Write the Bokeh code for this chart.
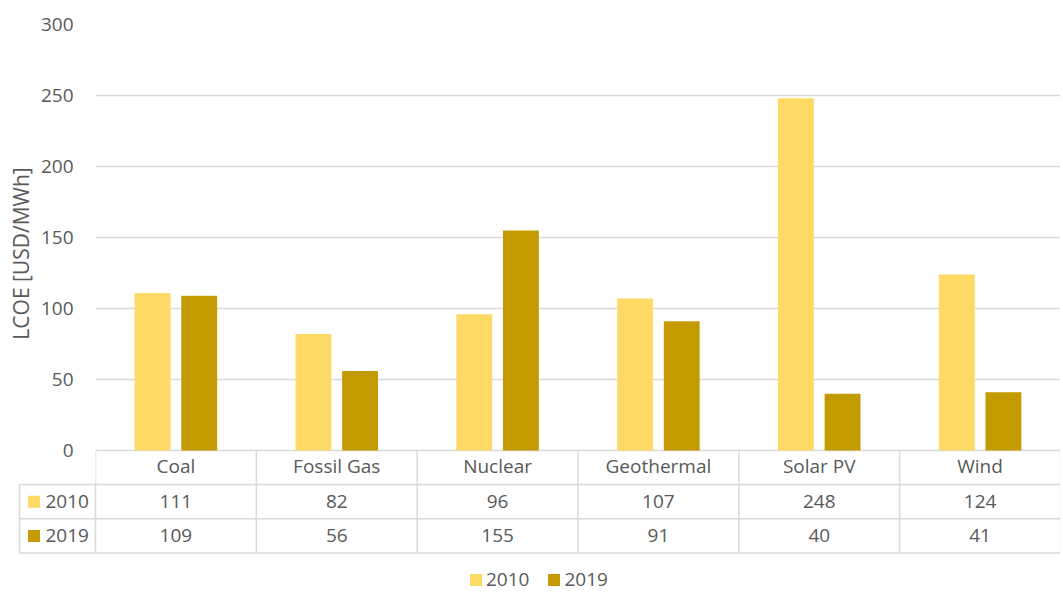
from bokeh.plotting import figure
from bokeh.layouts import column
from bokeh.models import Range1d, FixedTicker, Legend, LegendItem, ColumnDataSource
from bokeh.core.properties import value
from bokeh.embed import file_html
from bokeh.resources import INLINE

# ---- data ----
categories = ["Coal", "Fossil Gas", "Nuclear", "Geothermal", "Solar PV", "Wind"]
v2010 = [111, 82, 96, 107, 248, 124]
v2019 = [109, 56, 155, 91, 40, 41]
series_names = ["2010", "2019"]
y_ticks = [0, 50, 100, 150, 200, 250, 300]

C2010 = "#FFD966"
C2019 = "#C39A00"
TXT = "#595959"
GRID = "#D9D9D9"
FONT = "Open Sans"
FS = "19px"

W = 1060
LEFT = 95
n = len(categories)
ppu = (W - LEFT) / n          # pixels per category
centers = [i + 0.5 for i in range(n)]

# ---- top figure: bars + header row ----
A_TOP = 24
A_H = 482
frame_h = A_H - A_TOP
A = figure(width=W, height=A_H, output_backend="svg", toolbar_location=None,
           x_range=Range1d(0, n), y_range=Range1d(300 - frame_h / 1.42, 300),
           min_border_left=LEFT, min_border_right=0, min_border_top=A_TOP, min_border_bottom=0,
           x_axis_location=None)
A.frame_align = False
A.outline_line_color = None
A.background_fill_color = "white"
A.border_fill_color = "white"
A.xgrid.visible = False
A.ygrid.ticker = FixedTicker(ticks=y_ticks)
A.ygrid.grid_line_color = GRID
A.ygrid.grid_line_width = 1.5

ax = A.yaxis[0]
ax.ticker = FixedTicker(ticks=y_ticks)
ax.axis_line_color = None
ax.major_tick_line_color = None
ax.minor_tick_line_color = None
ax.major_tick_out = 0
ax.major_tick_in = 0
ax.minor_tick_out = 0
ax.minor_tick_in = 0
ax.major_label_standoff = 22
ax.major_label_text_font = FONT
ax.major_label_text_font_size = FS
ax.major_label_text_color = TXT
ax.axis_label = "LCOE [USD/MWh]"
ax.axis_label_text_font = FONT
ax.axis_label_text_font_size = "21px"
ax.axis_label_text_font_style = "normal"
ax.axis_label_text_color = TXT
ax.axis_label_standoff = 3

src = ColumnDataSource(dict(
    x1=[c - 0.145 for c in centers], x2=[c + 0.145 for c in centers],
    v2010=v2010, v2019=v2019, cat=categories, xc=centers,
    s2010=[str(v) for v in v2010], s2019=[str(v) for v in v2019],
))
A.vbar(x="x1", top="v2010", width=0.223, bottom=0, source=src, fill_color=C2010, line_color=None)
A.vbar(x="x2", top="v2019", width=0.223, bottom=0, source=src, fill_color=C2019, line_color=None)

hdr_bottom = 300 - frame_h / 1.42
A.segment(x0=list(range(n + 1)), y0=[0] * (n + 1), x1=list(range(n + 1)), y1=[hdr_bottom] * (n + 1),
          line_color=GRID, line_width=1.5)
A.text(x="xc", y=-10.6, text="cat", source=src, text_align="center", text_baseline="middle",
       text_font=value(FONT), text_font_size=FS, text_color=TXT)

# ---- bottom figure: data table rows + legend ----
B_H = 111
row_px = 34.3
B = figure(width=W, height=B_H, output_backend="svg", toolbar_location=None,
           x_range=Range1d(-LEFT / ppu, n),
           y_range=Range1d(-(A_H + B_H - 484) / row_px, (484 - A_H) / row_px),
           min_border_left=0, min_border_right=0, min_border_top=0, min_border_bottom=0,
           x_axis_location=None, y_axis_location=None)
B.frame_align = False
B.outline_line_color = None
B.xgrid.visible = False
B.ygrid.visible = False
B.background_fill_color = "white"
B.border_fill_color = "white"

xl = -(LEFT - 19) / ppu
ytop = (484 - A_H) / row_px
# horizontal lines
B.segment(x0=[xl] * 3, y0=[0, -1, -2], x1=[n] * 3, y1=[0, -1, -2], line_color=GRID, line_width=1.5)
# vertical lines
B.segment(x0=[xl], y0=[0], x1=[xl], y1=[-2], line_color=GRID, line_width=1.5)
B.segment(x0=list(range(n + 1)), y0=[ytop] * (n + 1), x1=list(range(n + 1)), y1=[-2] * (n + 1),
          line_color=GRID, line_width=1.5)
# values
B.text(x="xc", y=-0.5, text="s2010", source=src, text_align="center", text_baseline="middle",
       text_font=value(FONT), text_font_size=FS, text_color=TXT)
B.text(x="xc", y=-1.5, text="s2019", source=src, text_align="center", text_baseline="middle",
       text_font=value(FONT), text_font_size=FS, text_color=TXT)
# row labels
sq_x = (33.5 - LEFT) / ppu
r1 = B.rect(x=[sq_x], y=[-0.5], width=12, height=12, width_units="screen", height_units="screen",
            fill_color=C2010, line_color=None)
r2 = B.rect(x=[sq_x], y=[-1.5], width=12, height=12, width_units="screen", height_units="screen",
            fill_color=C2019, line_color=None)
B.text(x=[(45 - LEFT) / ppu] * 2, y=[-0.5, -1.5], text=series_names, text_align="left",
       text_baseline="middle", text_font=value(FONT), text_font_size=FS, text_color=TXT)

legend = Legend(items=[LegendItem(label=series_names[0], renderers=[r1]),
                       LegendItem(label=series_names[1], renderers=[r2])],
                orientation="horizontal", location=(468, 1))
legend.glyph_width = 15
legend.glyph_height = 15
legend.label_standoff = 3
legend.spacing = 17
legend.padding = 0
legend.margin = 0
legend.label_height = 16
legend.label_text_font = FONT
legend.label_text_font_size = FS
legend.label_text_color = TXT
legend.background_fill_alpha = 0
legend.border_line_color = None
B.add_layout(legend)

layout = column(A, B, spacing=0)
open("out.html", "w").write(file_html(layout, INLINE))
